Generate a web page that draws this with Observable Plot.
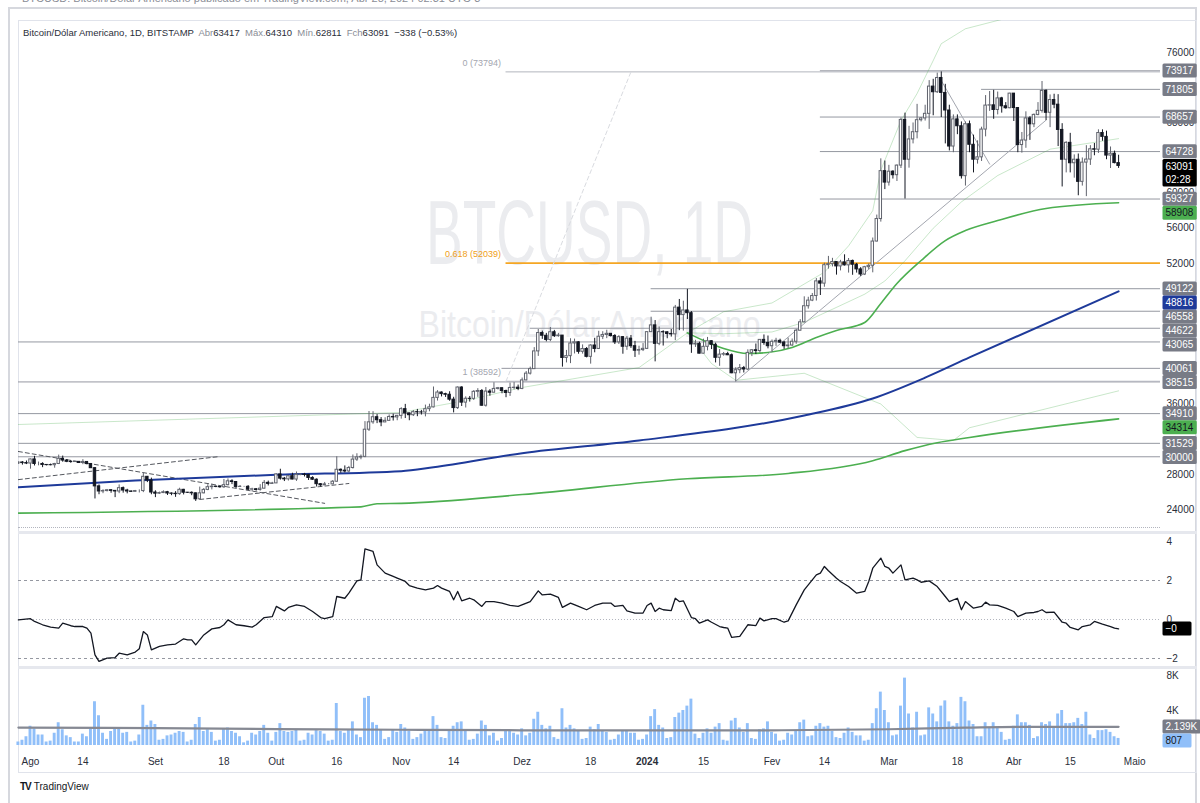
<!DOCTYPE html>
<html lang="pt-BR">
<head>
<meta charset="utf-8">
<title>BTCUSD 1D</title>
<script src="https://cdn.jsdelivr.net/npm/d3@7"></script>
<script src="https://cdn.jsdelivr.net/npm/@observablehq/plot@0.6"></script>
<style>
html,body{margin:0;padding:0;background:#fff;}
#root{position:relative;width:1200px;height:803px;overflow:hidden;background:#fff;font-family:"Liberation Sans Narrow","Liberation Sans",Arial,sans-serif;color:#131722;}
.abs{position:absolute;}
#outer{left:8px;top:7px;width:1189px;height:820px;border:2px solid #d6d8de;box-sizing:border-box;}
#inner{left:18px;top:20px;width:1179px;height:753px;border:1px solid #e0e3eb;box-sizing:border-box;}
.pane{position:absolute;left:0;}
#hdr{left:23px;top:27px;font-size:9.5px;white-space:pre;color:#2a2e39;}
#hdr .k{color:#8a8d96;}
#topcut{left:22px;top:-8px;font-size:11px;color:#8a8d96;white-space:pre;}
.sep{position:absolute;left:18px;width:1179px;height:3px;background:#e6e8ee;}
#dots{left:18px;top:527px;width:1142px;height:0;border-top:1px dotted #b2b5be;}
#logo{left:20px;top:781px;font-size:10px;color:#131722;white-space:pre;}
#logo b{font-weight:900;letter-spacing:-1px;margin-right:3px;}
</style>
</head>
<body>
<div id="root">
  <div id="outer" class="abs"></div>
  <div id="inner" class="abs"></div>
  <div id="topcut" class="abs"></div>
  <div id="main" class="pane" style="top:0px"></div>
  <div id="dots" class="abs"></div>
  <div class="sep" style="top:531px"></div>
  <div id="ind" class="pane" style="top:533px"></div>
  <div class="sep" style="top:666px"></div>
  <div id="vol" class="pane" style="top:668px"></div>
  <div id="hdr" class="abs"></div>
  <div id="logo" class="abs"></div>
</div>
<script>
// ---------------- DATA ----------------
const startDay = "2023-07-29";
const firstOpen = 29230;

// daily closes, Jul 29 2023 .. Apr 27 2024 (274 sessions)
const closes = [
29350,29280,29230,
29700,29180,29180,29070,29050,29040,29180,29770,29570,29430,29400,29420,29290,29410,29170,28700,26630,26050,26100,26190,26120,26050,26430,26160,26050,26010,26100,26100,27720,27300,25930,
25800,25870,25970,25820,25790,25750,26240,25910,25900,25840,25160,25840,26230,26540,26600,26570,26530,26770,27210,27130,26570,26580,26580,26260,26300,26220,26370,27030,26910,26970,
27990,27510,27430,27790,27410,27950,27970,27940,27590,27390,26880,26750,26860,26860,27160,28520,28420,28330,28720,29680,29920,29990,33080,33920,34500,34160,33910,34090,34530,34480,34650,
35420,34940,34730,35080,35050,35040,35420,35620,36700,37310,37130,37060,36500,35540,37880,36160,36600,36590,37390,37480,35810,37420,37290,37720,37800,37480,37260,37830,37860,37720,
38690,39460,39970,41990,44080,43770,43290,44170,43730,43790,41240,41450,42890,43020,41940,42260,41370,42660,42270,43660,43860,43990,43740,43020,43610,42520,43440,42580,42070,42140,42280,
44180,44950,42850,44180,44160,43970,43930,46970,46120,46650,46340,42780,42850,41730,42510,43150,42740,41260,41620,41680,41550,39500,39850,40080,39930,41820,42120,42030,43300,42950,42580,
43080,43190,42990,42580,42660,43090,44340,45300,47130,47770,48290,49960,49700,51800,51920,52160,51660,52120,51780,52280,51850,51320,50740,51570,51730,54490,57050,62500,61200,
62440,62040,63130,68330,63800,66110,66930,68300,68500,69020,72120,71480,73100,71400,69400,65300,68390,67610,61930,67840,65500,63800,64070,67230,69960,69990,69460,70780,69880,69660,71320,
69680,65470,65980,68500,67830,68900,69360,71630,69140,70590,70060,67190,63800,65720,63400,63800,61280,63470,63820,64990,64940,66840,66400,64270,64480,63417,63091
];
const highs = [
29400,29450,29520,
29740,30050,29400,29320,29110,29170,29250,30190,30080,29690,29540,29470,29450,29670,29450,29240,28780,26800,26250,26280,26250,26130,26800,26560,26300,26100,26170,26230,28140,27760,27570,
26130,25980,26120,26060,25880,26030,26420,26290,25940,26000,25880,26550,26380,26820,26880,26650,26620,27420,27480,27380,27160,26730,26630,26720,26420,26390,26830,27300,27230,27090,
28060,28580,27650,27840,28130,28270,28020,28110,27990,27730,27480,26940,27080,26960,27290,30000,28610,28960,28900,30200,30340,30200,34000,35150,35130,34800,34460,34440,34760,34850,34710,
35580,35960,34940,35260,35390,35280,35880,35980,37940,37520,37380,37230,37400,36770,37950,37970,36820,36860,37530,37750,37650,37880,37640,38420,37890,37830,37580,38380,38440,38160,
38960,39700,40200,42420,44480,44300,44040,44710,44380,44040,43800,42100,43430,43390,43090,42730,42430,42750,43480,44280,44230,44400,44020,43900,43780,43680,43680,43800,43130,42580,42880,
44190,45880,45500,44770,44340,44230,44480,47220,47900,47700,49050,46520,43250,43040,43380,43580,43200,42930,42200,41870,41890,41700,40130,40500,40280,42170,42200,42830,43320,43860,43740,
43290,43480,43380,43120,43500,43400,44500,45600,48200,48150,48580,50280,50360,52020,52800,52580,52200,52350,52980,52560,52380,52000,51520,51670,51940,54890,57500,63900,63650,
63160,62550,63210,68540,69100,67600,67980,70100,68600,70000,72800,72950,73650,73794,72380,70000,68900,68900,68100,68100,68200,66600,65950,67500,71100,71560,71700,71500,70900,70300,71360,
71330,69680,66900,69250,68700,69000,70300,72700,71750,71170,71250,71200,67900,65850,66800,64350,64450,64000,65400,65400,65650,67200,67200,67050,65250,64780,64310
];
const lows = [
29130,29050,29110,
28590,28950,28970,28760,28960,28970,28700,29110,29380,29330,29260,29360,29250,29100,29080,28700,25200,25680,25800,26000,25850,25350,25800,25860,25780,25970,25980,25880,25920,27060,25680,
25350,25720,25810,25600,25570,25380,25620,25660,25820,25570,24920,25140,25780,26140,26230,26480,26420,26400,26690,26830,26380,26500,26530,26150,26000,26090,26090,26330,26680,26890,
26950,27340,27180,27240,27380,27200,27850,27700,27300,27310,26560,26550,26710,26810,26820,27110,28120,28160,28180,28600,29470,29660,29890,32880,33700,33770,33420,33880,34040,34070,34100,
34280,34350,34100,34580,34560,34750,34540,35120,35560,36340,36810,36750,36320,34990,35380,35720,35550,36220,36400,36760,35750,35650,36890,37260,37600,37170,36720,36870,37610,37520,
37630,38650,39300,39970,41420,43360,43080,43100,43580,43600,40200,40680,40600,41700,41670,41680,41250,40540,41830,42200,43330,43440,43620,42770,42780,41670,42110,42330,41300,41560,41970,
42200,44170,40800,42640,42600,43430,43620,43210,44350,44300,45620,41770,42440,41720,41720,42050,42200,40680,40290,41440,41510,39450,38515,39450,39530,39810,41400,41640,41800,42690,42280,
41880,42560,42890,42220,42260,42570,42800,44340,45250,46800,47650,47720,48350,49290,51350,51600,50670,51150,51700,50900,50650,50900,50520,50620,51300,50930,54450,56700,60400,
60800,61600,61320,62800,59327,62840,65600,66170,68100,68200,67250,68800,71340,68600,65600,64800,64600,66650,61600,60800,64600,62300,63300,63600,66400,69300,68400,68900,69100,69550,69600,
68150,64600,64550,65100,66000,67450,68800,69100,68250,67450,69600,65300,60700,62300,62300,61700,59700,60800,59600,63150,64250,64520,65900,63800,62800,63330,62811
];
// volume in thousands of BTC
const volumesK = [
0.4,0.6,1.0,
2.2,1.9,1.2,1.2,0.4,0.5,1.4,2.6,1.8,1.1,0.9,0.4,0.4,1.3,1.0,1.9,5.0,3.4,1.4,0.7,1.6,2.0,1.9,1.4,1.5,0.4,0.5,1.2,4.6,2.3,2.8,
2.4,0.6,0.7,1.1,1.2,1.4,1.6,1.5,0.4,0.6,2.4,3.2,1.6,1.8,1.5,0.5,0.6,1.9,2.0,1.6,1.4,1.0,0.3,0.5,1.4,1.2,1.6,2.3,1.4,0.5,
1.5,2.5,1.6,1.5,1.6,1.8,0.5,0.6,1.4,1.2,1.7,1.6,1.3,0.5,0.6,4.8,1.6,1.4,1.7,2.7,1.2,0.9,5.4,5.6,2.6,2.3,1.8,0.7,0.9,1.8,1.5,
2.4,2.0,1.6,0.7,0.9,1.3,1.6,1.8,3.3,2.3,0.9,0.8,1.7,2.2,2.6,2.7,1.6,0.6,0.7,1.3,2.8,2.3,1.1,1.4,0.5,0.8,1.7,1.6,1.4,1.2,
1.9,1.1,1.4,3.0,3.8,2.3,1.9,2.2,0.9,0.7,4.2,2.0,2.3,1.9,1.6,0.7,0.8,2.1,1.8,2.4,1.6,1.5,0.6,0.7,1.2,1.7,1.6,1.4,1.4,0.6,0.7,
1.2,3.3,4.1,2.3,2.0,0.8,0.9,3.2,3.7,4.0,4.5,5.3,1.3,0.8,1.4,1.9,1.4,2.1,2.5,0.6,0.5,2.8,3.1,2.0,1.5,2.5,0.8,0.7,1.8,1.9,2.7,
1.5,1.3,0.5,0.6,1.4,1.2,1.6,2.6,2.9,1.0,1.1,2.2,2.5,2.1,2.2,1.6,0.9,0.8,1.4,2.0,1.5,1.1,1.1,0.5,0.6,2.5,4.2,6.1,4.0,
2.6,1.1,1.2,4.5,7.7,3.6,2.0,3.8,1.1,1.2,4.3,3.6,2.7,4.5,5.1,2.7,2.2,2.5,5.5,5.0,2.8,2.4,1.0,1.0,2.6,2.0,2.6,2.1,1.5,0.6,0.7,
2.2,3.5,2.6,2.6,2.3,0.8,1.0,2.6,2.4,2.7,2.1,3.6,4.0,2.5,2.5,2.6,3.1,2.4,3.8,1.2,0.8,1.7,1.7,1.8,1.5,1.0,0.807
];

// moving lines on the price pane [date, price]
const blueMA = [["2023-07-29",26540],["2023-08-27",27300],["2023-10-01",27950],["2023-11-01",28360],["2023-11-09",28810],["2023-12-01",30400],["2023-12-30",31850],["2024-02-09",34700],["2024-02-26",36630],["2024-03-10",39000],["2024-03-21",41300],["2024-04-27",48816]];
const lowerGreen = [["2023-07-29",23590],["2023-10-22",24300],["2023-10-26",24650],["2023-11-01",24700],["2023-12-01",25700],["2024-01-11",27500],["2024-02-05",28100],["2024-02-26",29550],["2024-03-05",30700],["2024-03-13",31600],["2024-03-21",32200],["2024-04-27",34314]];
const upperGreen = [["2024-01-11",44100],["2024-01-15",43230],["2024-01-20",42320],["2024-01-26",41750],["2024-01-31",41860],["2024-02-06",42430],["2024-02-12",43570],["2024-02-17",44370],["2024-02-24",45280],["2024-02-28",47440],["2024-03-03",49710],["2024-03-09",52330],["2024-03-15",54600],["2024-03-20",55740],["2024-03-28",56880],["2024-04-09",58250],["2024-04-27",58908]];
const bandA = [["2023-07-29",33670],["2023-11-01",35040],["2023-11-17",36400],["2023-12-01",37880],["2023-12-30",40150],["2024-01-11",44100],["2024-01-20",44000],["2024-02-01",44200],["2024-02-09",45300],["2024-02-17",47000],["2024-02-24",48500],["2024-02-29",50000],["2024-03-05",52300],["2024-03-12",56000],["2024-03-19",59000],["2024-03-28",62000],["2024-04-10",65000],["2024-04-27",66200]];
const bandB = [["2024-01-11",44100],["2024-01-20",46500],["2024-02-01",47500],["2024-02-14",51000],["2024-02-20",54000],["2024-02-26",58000],["2024-02-28",62600],["2024-03-04",68260],["2024-03-08",71330],["2024-03-12",75080],["2024-03-14",77000],["2024-03-20",78700],["2024-03-31",80000],["2024-04-27",86000]];
const bandC = [["2024-01-11",44100],["2024-01-17",40600],["2024-01-23",38700],["2024-02-09",39500],["2024-02-28",36000],["2024-03-08",32200],["2024-03-17",31850],["2024-03-21",33300],["2024-04-27",37500]];

// drawings
const trendUp = [["2024-01-23",38600],["2024-04-09",68300]];
const trendDown = [["2024-03-14",72800],["2024-03-26",63300]];
const fibDiagonal = [["2023-11-27",38592],["2023-12-28",73794]];
const dashA = [["2023-07-29",30600],["2023-10-13",24700]];
const dashB = [["2023-07-29",27400],["2023-09-17",30030]];
const dashC = [["2023-09-12",25140],["2023-10-19",26960]];

const rayLevels = [73917, 71805, 68657, 64728, 59327, 49122, 46558, 44622, 40061];
const rayStarts = ["2024-02-13","2024-03-24","2024-02-13","2024-02-13","2024-02-13","2024-01-02","2024-01-02","2023-12-03","2023-11-26"];
const fullLevels = [43065, 38515, 34910, 31529, 30000];

const fibStart = "2023-11-27";
const fibRatios = ["0", "0.618", "1"];
const fibValues = [73794, 52039, 38592];

// price-axis ticks that stay visible (the rest are covered by the value tags)
const priceTicks = [24000,28000,36000,52000,56000,60000,68000,76000];
const countdown = "02:28";

// oscillator pane [session index from Jul 29, value]
const oscillator = [[0,-0.02],[3,0.04],[4,-0.10],[6,-0.27],[8,-0.39],[10,-0.44],[11,-0.19],[13,-0.32],[14,-0.36],[16,-0.36],[17,-0.44],[18,-0.70],[19,-1.81],[20,-2.15],[22,-1.98],[24,-1.95],[25,-1.73],[27,-1.81],[29,-1.67],[30,-1.50],[31,-0.62],[32,-0.79],[33,-1.56],[35,-1.38],[37,-1.30],[39,-1.26],[41,-0.99],[42,-1.04],[43,-1.04],[44,-1.30],[46,-0.79],[48,-0.48],[50,-0.41],[51,-0.27],[52,-0.02],[54,-0.27],[56,-0.32],[58,-0.39],[59,-0.27],[61,0.10],[63,0.15],[64,0.67],[66,0.44],[67,0.62],[69,0.75],[71,0.67],[73,0.41],[75,0.10],[76,0.04],[78,0.15],[79,1.18],[81,1.09],[82,1.35],[84,1.98],[85,2.03],[86,3.62],[88,3.49],[89,2.80],[91,2.38],[93,2.21],[94,2.12],[96,1.95],[97,1.74],[99,1.61],[101,1.52],[103,1.61],[104,1.74],[105,1.61],[107,1.44],[108,1.01],[109,1.44],[110,0.96],[112,1.09],[113,1.01],[115,0.67],[116,0.92],[118,0.92],[120,0.84],[122,0.72],[124,0.67],[127,0.92],[129,1.47],[130,1.26],[132,1.30],[134,1.13],[135,0.62],[137,0.84],[139,0.67],[141,0.50],[143,0.72],[145,0.84],[147,0.84],[148,0.67],[150,0.72],[151,0.44],[153,0.33],[155,0.33],[156,0.72],[157,0.84],[158,0.41],[159,0.58],[160,0.50],[162,0.46],[163,1.09],[164,0.92],[165,0.96],[167,0.10],[168,0.04],[169,-0.19],[171,-0.02],[172,-0.14],[174,-0.36],[175,-0.41],[176,-0.44],[177,-0.92],[179,-0.87],[181,-0.27],[183,-0.31],[184,0.07],[185,-0.07],[187,0.04],[188,0.04],[190,-0.14],[191,-0.07],[193,0.75],[195,1.52],[196,1.78],[198,2.29],[199,2.38],[200,2.72],[201,2.50],[203,2.12],[204,1.95],[206,1.69],[208,1.35],[210,1.44],[211,1.95],[212,2.63],[214,3.15],[215,2.72],[216,2.63],[217,2.38],[219,2.80],[220,2.03],[222,2.12],[223,2.03],[224,1.91],[226,1.98],[228,1.69],[230,1.18],[231,0.92],[233,1.09],[234,0.50],[235,0.92],[237,0.58],[239,0.67],[240,0.89],[241,0.75],[243,0.72],[245,0.58],[247,0.41],[248,0.15],[250,0.33],[252,0.36],[253,0.41],[254,0.50],[255,0.36],[257,0.38],[259,-0.14],[260,-0.19],[261,-0.41],[263,-0.53],[264,-0.36],[266,-0.27],[267,-0.10],[269,-0.24],[271,-0.36],[272,-0.44],[273,-0.48]];
const oscTicks = [4, 2, 0, -2];

// volume moving average [date, thousands]
const volumeMA = [["2023-07-29",2.05],["2023-09-01",1.98],["2023-10-01",1.88],["2023-11-01",1.80],["2023-12-01",1.74],["2024-01-01",1.72],["2024-02-01",1.74],["2024-03-01",1.86],["2024-03-20",2.04],["2024-04-05",2.14],["2024-04-27",2.139]];
const volumeTicksK = [4, 8];

// time axis
const timeTickDates = ["2023-08-01","2023-08-14","2023-09-01","2023-09-18","2023-10-01","2023-10-16","2023-11-01","2023-11-14","2023-12-01","2023-12-18","2024-01-01","2024-01-15","2024-02-01","2024-02-14","2024-03-01","2024-03-18","2024-04-01","2024-04-15","2024-05-01"];
const timeTickLabels = ["Ago","14","Set","18","Out","16","Nov","14","Dez","18","2024","15","Fev","14","Mar","18","Abr","15","Maio"];

// header
const titleText = "Bitcoin/Dólar Americano, 1D, BITSTAMP";
const ohlcNames = ["Abr","Máx.","Mín.","Fch"];
const ohlcVals = [63417, 64310, 62811, 63091];
const changeText = "−338 (−0.53%)";

// ---------------- BUILD ----------------
const FONT = '"Liberation Sans Narrow","Liberation Sans",Arial,sans-serif';
const DAY = 864e5;
const t0 = Date.parse(startDay);
const dateOf = i => new Date(t0 + i * DAY);
const D = s => new Date(s);

const candles = closes.map((c, i) => ({
  date: dateOf(i),
  open: i ? closes[i - 1] : firstOpen,
  high: highs[i], low: lows[i], close: c,
  vol: volumesK[i] * 1000
}));
candles.forEach(d => d.up = d.close >= d.open);

const X = {type: "utc", domain: [D(startDay), D("2024-05-01")], range: [17.9, 17.9 + 277 * 4.03]};
const RAY_END = D("2024-06-01");
const UP_EDGE = "#60636d", DOWN = "#131722";
const GRAY = "#9598a1";
const baseStyle = {background: "transparent", fontFamily: FONT, fontSize: "10px", color: "#2a2e39", overflow: "visible"};
const lastOf = a => a[a.length - 1][1];

const line = (arr, o) => Plot.line(arr, {x: d => D(d[0]), y: d => d[1], clip: true, ...o});

const fibs = fibValues.map((v, k) => ({v, label: `${fibRatios[k]} (${v})`, color: fibRatios[k] === "0.618" ? "#f5a623" : "#b2b5be", text: fibRatios[k] === "0.618" ? "#f0a020" : "#a3a6af"}));
const rays = rayLevels.map((v, k) => ({v, from: D(rayStarts[k])}));

const tagText = (data, name, fill, extra = {}) => Plot.text(data, {y: d => d, text: d => String(d), frameAnchor: "right", textAnchor: "start", dx: 5, fill, ariaDescription: name, ...extra});

const main = Plot.plot({
  width: 1200, height: 530,
  marginLeft: 18, marginRight: 40, marginTop: 20, marginBottom: 2,
  style: baseStyle,
  x: {...X, axis: null},
  y: {domain: [24000, 76000], range: [509, 52], axis: null},
  color: {type: "identity"},
  marks: [
    Plot.text(["BTCUSD, 1D"], {text: d => d, frameAnchor: "middle", dy: -39, fontSize: 90, fontFamily: '"Liberation Sans",Arial,sans-serif', fill: "#ebecef", ariaDescription: "wm1"}),
    Plot.text(["Bitcoin/Dólar Americano"], {text: d => d, frameAnchor: "middle", dy: 51, fontSize: 36, fontFamily: '"Liberation Sans",Arial,sans-serif', fill: "#ebecef", ariaDescription: "wm2"}),
    Plot.ruleY(fullLevels, {stroke: GRAY, strokeWidth: 1}),
    Plot.ruleY(rays, {y: "v", x1: "from", x2: () => RAY_END, stroke: GRAY, strokeWidth: 1, clip: true}),
    Plot.ruleY(fibs, {y: "v", x1: () => D(fibStart), x2: () => RAY_END, stroke: "color", strokeWidth: d => d.label.startsWith("0.618") ? 1.6 : 1, clip: true}),
    Plot.text(fibs, {x: () => D(fibStart), y: "v", text: "label", textAnchor: "end", dx: -5, dy: -9, fill: "text", fontSize: 9}),
    line(fibDiagonal, {stroke: "#d9dbe0", strokeWidth: 1, strokeDasharray: "4,3"}),
    line(dashA, {stroke: "#55585f", strokeWidth: 1, strokeDasharray: "4,3"}),
    line(dashB, {stroke: "#55585f", strokeWidth: 1, strokeDasharray: "4,3"}),
    line(dashC, {stroke: "#55585f", strokeWidth: 1, strokeDasharray: "4,3"}),
    line(bandA, {stroke: "#4caf50", strokeOpacity: 0.3, strokeWidth: 1}),
    line(bandB, {stroke: "#4caf50", strokeOpacity: 0.3, strokeWidth: 1}),
    line(bandC, {stroke: "#4caf50", strokeOpacity: 0.3, strokeWidth: 1}),
    line(lowerGreen, {stroke: "#4caf50", strokeWidth: 1.6, curve: "monotone-x"}),
    line(upperGreen, {stroke: "#4caf50", strokeWidth: 1.6, curve: "monotone-x"}),
    line(blueMA, {stroke: "#1e3a9a", strokeWidth: 2, curve: "monotone-x"}),
    line(trendUp, {stroke: "#a3a6af", strokeWidth: 1}),
    line(trendDown, {stroke: "#a3a6af", strokeWidth: 1}),
    Plot.ruleX(candles, {x: "date", y1: "low", y2: "high", stroke: d => d.up ? UP_EDGE : DOWN, strokeWidth: 1, clip: true}),
    Plot.rect(candles, {
      x1: d => new Date(+d.date - 0.3 * DAY), x2: d => new Date(+d.date + 0.3 * DAY),
      y1: d => Math.min(d.open, d.close), y2: d => Math.max(d.open, d.close),
      fill: d => d.up ? "#ffffff" : DOWN, stroke: d => d.up ? UP_EDGE : DOWN, strokeWidth: 1, clip: true
    }),
    Plot.axisY(priceTicks, {anchor: "right", tickSize: 0, tickPadding: 6, tickFormat: d => String(d), label: null, color: "#2a2e39"}),
    tagText(rayLevels.concat(fullLevels), "tag-gray", "#ffffff"),
    tagText([lastOf(upperGreen), lastOf(lowerGreen)], "tag-green", "#131722"),
    tagText([lastOf(blueMA)], "tag-blue", "#ffffff"),
    tagText([candles[candles.length - 1].close], "tag-black", "#ffffff", {text: d => `${d}\n${countdown}`, lineAnchor: "top", lineHeight: 1.35, dy: -6})
  ]
});

const oscData = oscillator.map(([i, v]) => ({date: dateOf(i), v}));
const oscLast = oscillator[oscillator.length - 1][1];
const fmtSigned = v => (v < 0 || Object.is(v, -0) ? "\u2212" : "") + Math.abs(v);
const ind = Plot.plot({
  width: 1200, height: 135,
  marginLeft: 18, marginRight: 40, marginTop: 2, marginBottom: 3,
  style: baseStyle,
  x: {...X, axis: null},
  y: {domain: [-2, 2], range: [125, 47], axis: null},
  marks: [
    Plot.ruleY([2, -2], {stroke: GRAY, strokeDasharray: "3,3", strokeWidth: 1}),
    Plot.ruleY([0], {stroke: "#b2b5be", strokeDasharray: "1,2", strokeWidth: 1}),
    Plot.line(oscData, {x: "date", y: "v", stroke: "#131722", strokeWidth: 1.3}),
    Plot.axisY(oscTicks, {anchor: "right", tickSize: 0, tickPadding: 6, tickFormat: fmtSigned, label: null, color: "#2a2e39"}),
    tagText([oscLast], "tag-black", "#ffffff", {text: d => fmtSigned(Math.round(d))})
  ]
});

const volMAData = volumeMA.map(([s, k]) => ({date: D(s), v: k * 1000}));
const labelByTime = new Map(timeTickDates.map((s, k) => [+D(s), timeTickLabels[k]]));
const vol = Plot.plot({
  width: 1200, height: 135,
  marginLeft: 18, marginRight: 40, marginTop: 2, marginBottom: 53,
  style: baseStyle,
  x: {...X, axis: null},
  y: {domain: [0, 8000], range: [77, 7], axis: null},
  marks: [
    Plot.rect(candles, {x1: d => new Date(+d.date - 0.36 * DAY), x2: d => new Date(+d.date + 0.36 * DAY), y1: () => 0, y2: "vol", fill: "#90bff9"}),
    Plot.line(volMAData, {x: "date", y: "v", stroke: "#868993", strokeWidth: 2.2, curve: "monotone-x"}),
    Plot.axisY(volumeTicksK.map(k => k * 1000), {anchor: "right", tickSize: 0, tickPadding: 6, tickFormat: d => d / 1000 + "K", label: null, color: "#2a2e39"}),
    Plot.axisX(timeTickDates.map(D), {anchor: "bottom", tickSize: 0, tickPadding: 7, tickFormat: d => labelByTime.get(+d), label: null, color: "#2a2e39"}),
    tagText([volumeMA[volumeMA.length - 1][1]], "tag-gray", "#ffffff", {y: d => d * 1000, text: d => d + "K"}),
    tagText([volumesK[volumesK.length - 1]], "tag-vol", "#131722", {y: d => d * 1000, text: d => String(Math.round(d * 1000))})
  ]
});

document.getElementById("main").appendChild(main);
document.getElementById("ind").appendChild(ind);
document.getElementById("vol").appendChild(vol);

// ---------------- post-processing: tag boxes, watermark width ----------------
const NS = "http://www.w3.org/2000/svg";
const TAGBG = {"tag-gray": "#787b86", "tag-black": "#000000", "tag-green": "#4caf50", "tag-blue": "#1e3a9a", "tag-vol": "#90bff9"};
function groupsFor(svg, name) {
  return svg.querySelectorAll(`[aria-description="${name}"]`);
}
function tagify(svg) {
  const items = [];
  for (const [name, bg] of Object.entries(TAGBG)) {
    groupsFor(svg, name).forEach(g => g.querySelectorAll("text").forEach(t => items.push({t, bg})));
  }
  items.forEach(it => { it.bb = it.t.getBBox(); it.r = it.t.getBoundingClientRect(); });
  items.sort((a, b) => a.r.top - b.r.top);
  let prev = -Infinity;
  const pad = 1.5;
  for (const it of items) {
    const top = it.r.top - pad, h = it.r.height + 2 * pad;
    const shift = Math.max(0, prev - top);
    prev = top + shift + h;
    const g = document.createElementNS(NS, "g");
    it.t.parentNode.insertBefore(g, it.t);
    const rect = document.createElementNS(NS, "rect");
    rect.setAttribute("x", it.bb.x - 3);
    rect.setAttribute("y", it.bb.y - pad);
    rect.setAttribute("width", Math.max(it.bb.width + 6, 29));
    rect.setAttribute("height", it.bb.height + 2 * pad);
    rect.setAttribute("rx", 1.5);
    rect.setAttribute("fill", it.bg);
    const tr = it.t.getAttribute("transform");
    if (tr) rect.setAttribute("transform", tr);
    g.appendChild(rect);
    g.appendChild(it.t);
    if (shift) g.setAttribute("transform", `translate(0,${shift})`);
  }
}
[main, ind, vol].forEach(tagify);
function stretch(svg, label, len) {
  groupsFor(svg, label).forEach(g => g.querySelectorAll("text").forEach(t => {
    t.setAttribute("textLength", len); t.setAttribute("lengthAdjust", "spacingAndGlyphs");
  }));
}
stretch(main, "wm1", 327);
stretch(main, "wm2", 342);
vol.querySelectorAll("text").forEach(t => { if (t.textContent === "2024") t.setAttribute("font-weight", "bold"); });

// header / footer text
const hdr = document.getElementById("hdr");
hdr.innerHTML = titleText + "  " + ohlcNames.map((n, k) => `<span class="k">${n}</span>${ohlcVals[k]}`).join("  ") + "  " + changeText;
document.getElementById("topcut").textContent = "BTCUSD: Bitcoin/Dólar Americano publicado em TradingView.com, Abr 28, 2024 02:31 UTC-3";
document.getElementById("logo").innerHTML = "<b>TV</b>TradingView";
</script>
</body>
</html>
